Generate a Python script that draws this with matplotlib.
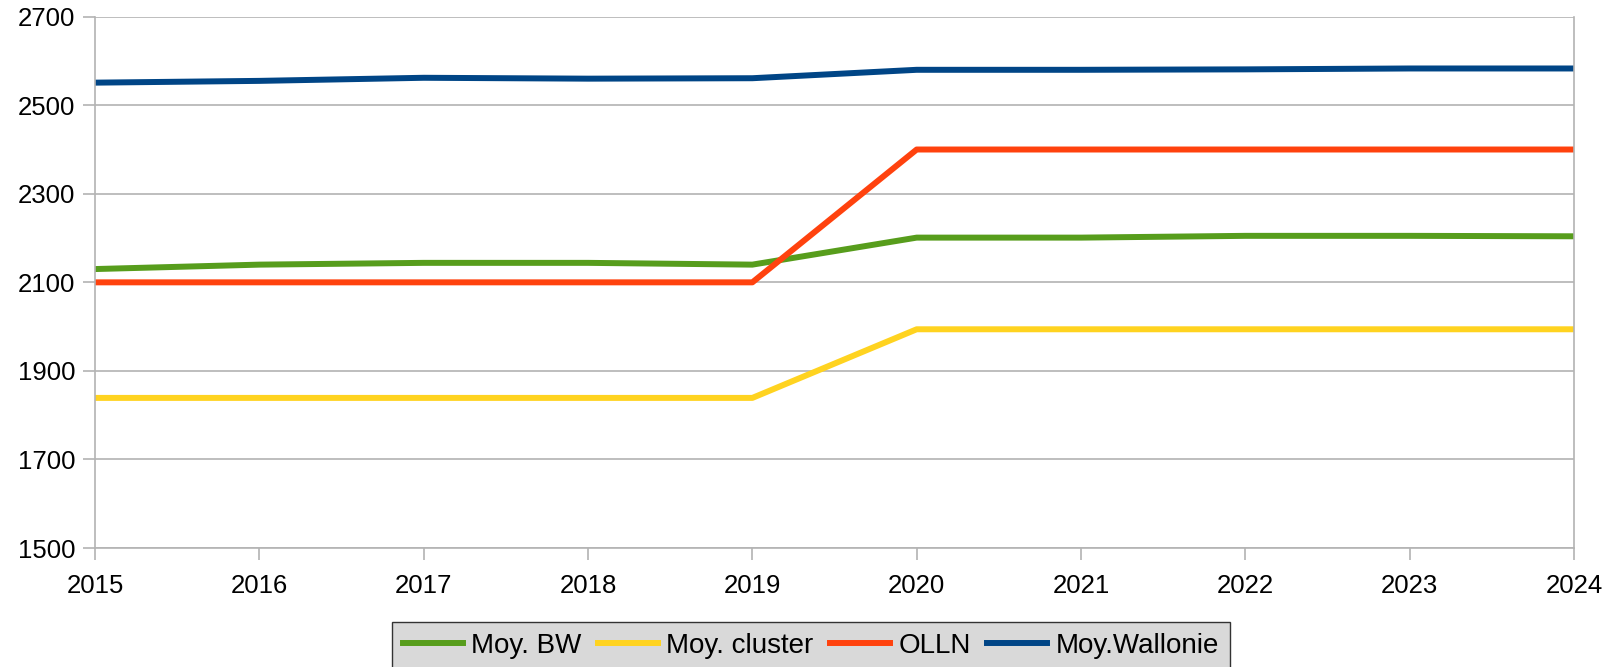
import matplotlib
matplotlib.use("Agg")
import matplotlib.pyplot as plt

plt.rcParams['font.family'] = ['Liberation Sans', 'DejaVu Sans']

years = [2015, 2016, 2017, 2018, 2019, 2020, 2021, 2022, 2023, 2024]
moy_bw = [2130, 2140, 2144, 2144, 2140, 2201, 2201, 2205, 2205, 2204]
moy_cluster = [1839, 1839, 1839, 1839, 1839, 1994, 1994, 1994, 1994, 1994]
olln = [2100, 2100, 2100, 2100, 2100, 2400, 2400, 2400, 2400, 2400]
moy_wallonie = [2551, 2555, 2562, 2560, 2561, 2580, 2580, 2581, 2583, 2583]

yticks = [1500, 1700, 1900, 2100, 2300, 2500, 2700]

fig = plt.figure(figsize=(16.22, 6.67), dpi=100)
ax = fig.add_axes([0.0586, 0.1784, 0.9118, 0.7966])

lw = 4.3
ax.plot(years, moy_bw, color='#579d1c', lw=lw, label='Moy. BW')
ax.plot(years, moy_cluster, color='#ffd320', lw=lw, label='Moy. cluster')
ax.plot(years, olln, color='#ff420e', lw=lw, label='OLLN')
ax.plot(years, moy_wallonie, color='#004586', lw=lw, label='Moy.Wallonie')

ax.set_xlim(2015, 2024)
ax.set_ylim(1500, 2700)
ax.set_xticks(years)
ax.set_yticks(yticks)
ax.grid(axis='y', color='#b3b3b3', lw=1.2)
ax.set_axisbelow(True)
for s in ['left', 'right', 'bottom', 'top']:
    ax.spines[s].set_color('#b3b3b3')
    ax.spines[s].set_linewidth(1.2)
ax.spines['top'].set_visible(False)
ax.tick_params(axis='both', colors='#b3b3b3', labelcolor='black', labelsize=18.5,
               length=8.6, width=1.2)
ax.tick_params(axis='y', pad=5.4)
ax.tick_params(axis='x', pad=10)

leg = fig.legend(loc='upper center', bbox_to_anchor=(0.5, 1 - 622 / 667), ncol=4,
                 fontsize=20, frameon=True, fancybox=False, handlelength=2.15,
                 handletextpad=0.3, columnspacing=0.6, borderpad=0.4,
                 borderaxespad=0)
leg.get_frame().set_facecolor('#d9d9d9')
leg.get_frame().set_edgecolor('#333333')
leg.get_frame().set_linewidth(1.0)
leg.get_frame().set_alpha(1)

fig.savefig('out.png', dpi=100)
